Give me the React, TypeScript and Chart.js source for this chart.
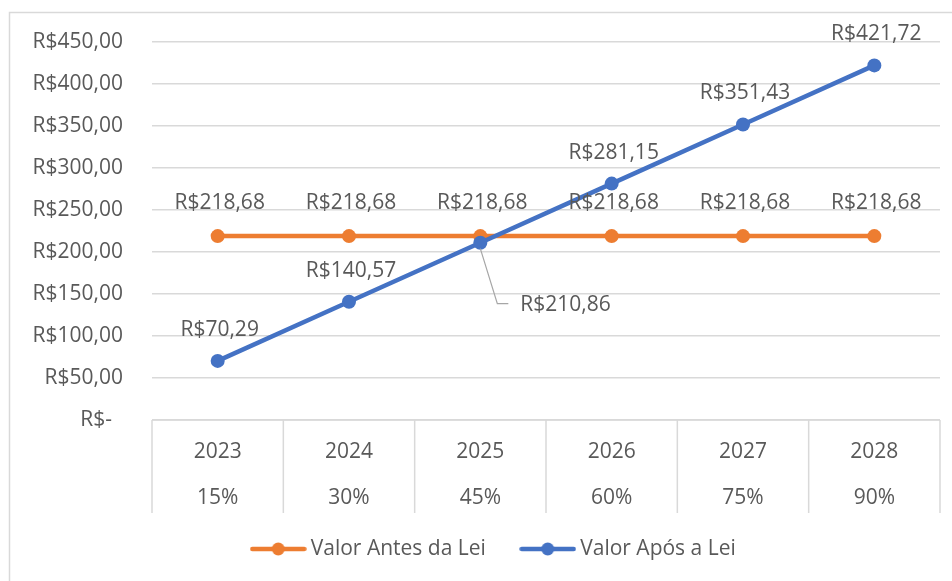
import React, { useEffect, useRef } from "react";
import { Chart, registerables } from "chart.js";

Chart.register(...registerables);

// ---- data ----
const years = ["2023", "2024", "2025", "2026", "2027", "2028"];
const rates = ["15%", "30%", "45%", "60%", "75%", "90%"];
const seriesNames = ["Valor Antes da Lei", "Valor Após a Lei"];
const valorAntes = [218.68, 218.68, 218.68, 218.68, 218.68, 218.68];
const valorApos = [70.29, 140.57, 210.86, 281.15, 351.43, 421.72];
const yMin = 0;
const yMax = 450;
const yStep = 50;
// where each data label sits relative to its point
const antesLabelPlacement = ["above", "above", "above", "above", "above", "above"];
const aposLabelPlacement = ["above", "above", "leader", "above", "above", "above"];

// ---- styles ----
const FONT = '"Open Sans", "Noto Sans", sans-serif';
const FS = 21;
const TEXT = "#595959";
const GRID = "#d9d9d9";
const ORANGE = "#ED7D31";
const BLUE = "#4472C4";

const fmt = (v: number) =>
  v === 0 ? "R$-  " : "R$" + v.toFixed(2).replace(".", ",");

function makeLegendIcon(color: string): HTMLCanvasElement {
  const c = document.createElement("canvas");
  c.width = 57;
  c.height = 16;
  const g = c.getContext("2d")!;
  g.strokeStyle = color;
  g.lineWidth = 4.5;
  g.lineCap = "round";
  g.beginPath();
  g.moveTo(2.5, 8);
  g.lineTo(54.5, 8);
  g.stroke();
  g.fillStyle = color;
  g.beginPath();
  g.arc(28.5, 8, 6.5, 0, Math.PI * 2);
  g.fill();
  return c;
}

const frameAndTablePlugin = {
  id: "frameAndTable",
  afterLayout(chart: any) {
    const lg = chart.legend;
    if (lg) {
      lg.left += 16;
      lg.right += 16;
    }
  },
  beforeDraw(chart: any) {
    const ctx = chart.ctx;
    ctx.save();
    ctx.strokeStyle = GRID;
    ctx.lineWidth = 1.5;
    ctx.beginPath();
    ctx.moveTo(9.5, chart.height + 2);
    ctx.lineTo(9.5, 12.5);
    ctx.lineTo(chart.width + 2, 12.5);
    ctx.stroke();
    ctx.restore();
  },
  afterDraw(chart: any) {
    const ctx = chart.ctx;
    const xs = chart.scales.x;
    const area = chart.chartArea;
    const n = years.length;
    const w = xs.getPixelForValue(1) - xs.getPixelForValue(0);
    const top = area.bottom;
    const bottom = top + 93;
    ctx.save();
    ctx.strokeStyle = GRID;
    ctx.lineWidth = 1.5;
    ctx.beginPath();
    ctx.moveTo(area.left, top);
    ctx.lineTo(area.right, top);
    for (let i = 0; i <= n; i++) {
      const x =
        i < n ? xs.getPixelForValue(i) - w / 2 : xs.getPixelForValue(n - 1) + w / 2;
      ctx.moveTo(x, top);
      ctx.lineTo(x, bottom);
    }
    ctx.stroke();
    ctx.restore();
  },
};

const dataLabelPlugin = {
  id: "dataLabels",
  afterDatasetsDraw(chart: any) {
    const ctx = chart.ctx;
    ctx.save();
    ctx.font = `${FS}px ${FONT}`;
    ctx.fillStyle = TEXT;
    ctx.textBaseline = "middle";
    chart.data.datasets.forEach((ds: any, di: number) => {
      const meta = chart.getDatasetMeta(di);
      const placement = di === 0 ? antesLabelPlacement : aposLabelPlacement;
      meta.data.forEach((pt: any, i: number) => {
        const txt = fmt(ds.data[i]);
        const place = placement[i];
        if (place === "leader") {
          ctx.save();
          ctx.strokeStyle = "#a6a6a6";
          ctx.lineWidth = 1.2;
          ctx.beginPath();
          ctx.moveTo(pt.x, pt.y + 6);
          ctx.lineTo(pt.x + 17, pt.y + 61);
          ctx.lineTo(pt.x + 28, pt.y + 61);
          ctx.stroke();
          ctx.restore();
          ctx.textAlign = "left";
          ctx.fillText(txt, pt.x + 40, pt.y + 62);
        } else {
          ctx.textAlign = "center";
          ctx.fillText(txt, pt.x + 2, pt.y - (di === 0 ? 33 : 31));
        }
      });
    });
    ctx.restore();
  },
};

export default function App() {
  const ref = useRef<HTMLCanvasElement | null>(null);

  useEffect(() => {
    if (!ref.current) return;
    const icons = [makeLegendIcon(ORANGE), makeLegendIcon(BLUE)];
    const chart = new Chart(ref.current, {
      type: "line",
      data: {
        labels: years.map((y, i) => [y, rates[i]]),
        datasets: [
          {
            label: seriesNames[0],
            data: valorAntes,
            borderColor: ORANGE,
            backgroundColor: ORANGE,
            borderWidth: 4.5,
            pointRadius: 7,
            pointBorderWidth: 0,
            pointBackgroundColor: ORANGE,
            borderCapStyle: "round",
            borderJoinStyle: "round",
            order: 1,
          } as any,
          {
            label: seriesNames[1],
            data: valorApos,
            borderColor: BLUE,
            backgroundColor: BLUE,
            borderWidth: 4.5,
            pointRadius: 7,
            pointBorderWidth: 0,
            pointBackgroundColor: BLUE,
            borderCapStyle: "round",
            borderJoinStyle: "round",
            order: 0,
          } as any,
        ],
      },
      options: {
        animation: false,
        responsive: false,
        events: [],
        layout: { padding: { left: 20, right: 12, top: 41, bottom: 11.5 } },
        scales: {
          x: {
            offset: true,
            grid: { display: false },
            border: { display: false },
            ticks: {
              color: TEXT,
              font: { family: FONT, size: FS, lineHeight: 46 / FS },
              padding: 1,
              autoSkip: false,
              maxRotation: 0,
            },
            afterFit: (s: any) => {
              s.height = 95;
            },
          },
          y: {
            min: yMin,
            max: yMax,
            ticks: {
              stepSize: yStep,
              color: TEXT,
              font: { family: FONT, size: FS },
              padding: 29,
              callback: (v: any) => fmt(Number(v)),
            },
            grid: { color: GRID, lineWidth: 1.5, drawTicks: false },
            border: { display: false },
            afterFit: (s: any) => {
              s.width = 132;
            },
          },
        },
        plugins: {
          tooltip: { enabled: false },
          legend: {
            position: "bottom",
            labels: {
              usePointStyle: true,
              pointStyleWidth: 44,
              padding: 23.5,
              color: TEXT,
              font: { family: FONT, size: FS },
              sort: (a: any, b: any) => a.datasetIndex - b.datasetIndex,
              generateLabels: (c: any) => {
                const items = Chart.defaults.plugins.legend.labels.generateLabels(c);
                return items.map((it: any) => ({
                  ...it,
                  text: it.datasetIndex === 0 ? it.text + "   " : it.text,
                  pointStyle: icons[it.datasetIndex],
                }));
              },
            },
          },
        },
      },
      plugins: [frameAndTablePlugin, dataLabelPlugin],
    });
    return () => chart.destroy();
  }, []);

  return (
    <div style={{ position: "absolute", left: 0, top: 0, width: 952, height: 581, background: "#fff" }}>
      <canvas ref={ref} width={952} height={581} style={{ display: "block" }} />
    </div>
  );
}
